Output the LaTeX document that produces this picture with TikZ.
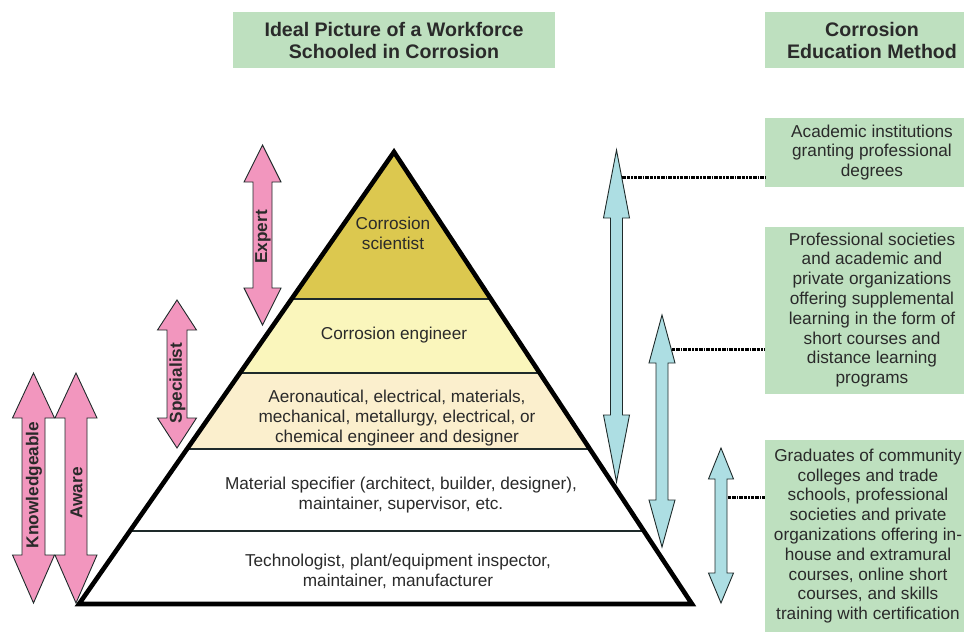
\documentclass[tikz,border=0pt]{standalone}
\usepackage{fontspec}
\setmainfont{Liberation Sans}
\definecolor{boxgreen}{HTML}{BEE0BF}
\definecolor{pinkfill}{HTML}{F296BE}
\definecolor{bluefill}{HTML}{ADDEE3}
\definecolor{sciyellow}{HTML}{DCC84F}
\definecolor{engyellow}{HTML}{FAF6BC}
\definecolor{aerobeige}{HTML}{FBEFCD}
\definecolor{txt}{HTML}{2A2A2A}
\definecolor{outl}{HTML}{1E2A2A}
\newcommand{\dblarr}[8]{%
  % style, x, ytop, ybot, shaft half, head half, top head len, bottom head len
  \path[#1] (#2,#3) -- (#2+#6,#3+#7) -- (#2+#5,#3+#7) -- (#2+#5,#4-#8)
    -- (#2+#6,#4-#8) -- (#2,#4) -- (#2-#6,#4-#8) -- (#2-#5,#4-#8)
    -- (#2-#5,#3+#7) -- (#2-#6,#3+#7) -- cycle;}
\begin{document}
\begin{tikzpicture}[x=1pt,y=-1pt,
  gbox/.style={fill=boxgreen, draw=none, inner sep=0pt, align=center, text=txt,
    font=\fontsize{17.2}{19.8}\selectfont},
  hbox/.style={gbox, font=\bfseries\fontsize{19.6}{22}\selectfont},
  ptext/.style={align=center, text=txt, inner sep=0pt, font=\fontsize{17.2}{20}\selectfont},
  plabel/.style={rotate=90, inner sep=0pt, text=txt, font=\bfseries\fontsize{17.2}{18}\selectfont},
  pinkarrow/.style={fill=pinkfill, draw=outl, line width=0.9pt, line join=miter},
  bluearrow/.style={fill=bluefill, draw=outl, line width=0.9pt, line join=miter},
  layerline/.style={draw=outl, line width=1.3pt},
  conn/.style={draw=black, line width=3pt, dash pattern=on 3.5pt off 1pt on 3.5pt off 1pt on 1.5pt off 1pt}
]
\useasboundingbox (0,0) rectangle (964,632);

% header boxes
\node[hbox, minimum width=322pt, minimum height=56pt] (h1) at (394,40)
  {Ideal Picture of a Workforce\\Schooled in Corrosion};
\node[hbox, minimum width=214pt, minimum height=56pt] (h2) at (872,40)
  {Corrosion\\Education Method};

% pyramid
\coordinate (apex) at (394,152);
\coordinate (bl) at (79,604);
\coordinate (br) at (692,604);
\begin{scope}
  \clip (apex) -- (br) -- (bl) -- cycle;
  \fill[sciyellow] (0,140) rectangle (964,299);
  \fill[engyellow] (0,299) rectangle (964,373);
  \fill[aerobeige] (0,373) rectangle (964,449);
  \fill[white] (0,449) rectangle (964,610);
  \draw[layerline] (0,299) -- (964,299);
  \draw[layerline] (0,373) -- (964,373);
  \draw[layerline] (0,449) -- (964,449);
  \draw[layerline] (0,531) -- (964,531);
\end{scope}
\draw[line width=4.6pt, line join=miter] (apex) -- (br) -- (bl) -- cycle;

\node[ptext] (l1) at (393,233) {Corrosion\\scientist};
\node[ptext] (l2) at (394,335) {Corrosion engineer};
\node[ptext] (l3) at (397,418) {Aeronautical, electrical, materials,\\mechanical, metallurgy, electrical, or\\chemical engineer and designer};
\node[ptext] (l4) at (401,495.5) {Material specifier (architect, builder, designer),\\maintainer, supervisor, etc.};
\node[ptext] (l5) at (398,571.5) {Technologist, plant/equipment inspector,\\maintainer, manufacturer};

% pink arrows
\dblarr{pinkarrow}{262.5}{145}{325}{9.5}{18.5}{37}{37}
\dblarr{pinkarrow}{177}{300}{448}{10}{19.5}{30}{30}
\dblarr{pinkarrow}{33.5}{373}{603}{11.5}{21}{45}{48}
\dblarr{pinkarrow}{76}{373}{603}{11}{21}{45}{48}
\node[plabel] (expert) at (263,237) {Expert};
\node[plabel] (specialist) at (177.5,383) {Specialist};
\node[plabel] (knowledgeable) at (34,485) {Knowledgeable};
\node[plabel] (aware) at (76.5,493) {Aware};

% blue arrows
\dblarr{bluearrow}{616.5}{150}{482}{6}{13}{68}{67}
\dblarr{bluearrow}{662}{315}{547}{6}{13}{48}{47}
\dblarr{bluearrow}{721}{448}{603}{6}{12.5}{31}{30}

% method boxes
\node[gbox, minimum width=214pt, minimum height=69pt] (b1) at (872,152.5)
  {Academic institutions\\granting professional\\degrees};
\node[gbox, minimum width=214pt, minimum height=167pt] (b2) at (872,310)
  {Professional societies\\and academic and\\private organizations\\offering supplemental\\learning in the form of\\short courses and\\distance learning\\programs};
\node[gbox, minimum width=206pt, minimum height=192pt] (b3) at (868,536)
  {Graduates of community\\colleges and trade\\schools, professional\\societies and private\\organizations offering in-\\house and extramural\\courses, online short\\courses, and skills\\training with certification};

% connectors
\coordinate (c1) at (622,177);
\coordinate (c2) at (671.5,349);
\coordinate (c3) at (727.5,497.5);
\draw[conn] (c1) -- (c1 -| b1.west);
\draw[conn] (c2) -- (c2 -| b2.west);
\draw[conn] (c3) -- (c3 -| b3.west);
\end{tikzpicture}
\end{document}
